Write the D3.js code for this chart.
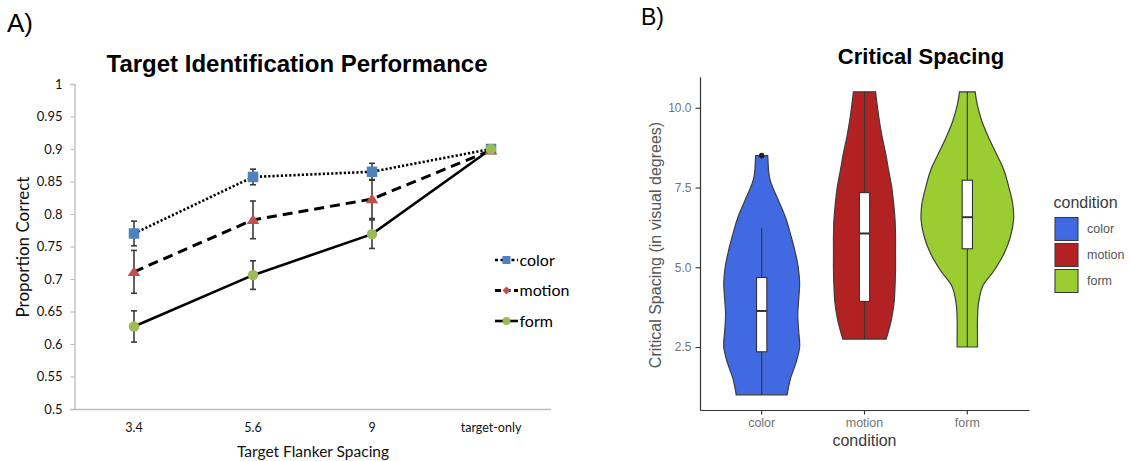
<!DOCTYPE html>
<html>
<head>
<meta charset="utf-8">
<script src="https://cdn.jsdelivr.net/npm/d3@7"></script>
<style>
  body { margin: 0; background: #fff; }
  svg { display: block; }
</style>
</head>
<body>
<svg id="fig" width="1132" height="461"></svg>
<script>
// ---------- Panel A: identification accuracy by target-flanker spacing ----------
const spacingCats   = ["3.4", "5.6", "9", "target-only"];
const accuracyTicks = [0.5, 0.55, 0.6, 0.65, 0.7, 0.75, 0.8, 0.85, 0.9, 0.95, 1];
const seriesNames   = ["color", "motion", "form"];
const colorMean  = [0.770, 0.857, 0.865, 0.900];
const colorErr   = [0.019, 0.012, 0.013, null];
const motionMean = [0.711, 0.791, 0.823, 0.898];
const motionErr  = [0.033, 0.029, 0.030, null];
const formMean   = [0.627, 0.706, 0.769, 0.900];
const formErr    = [0.024, 0.022, 0.022, null];

// ---------- Panel B: critical spacing per condition ----------
const conditions   = ["color", "motion", "form"];
const spacingTicks = [2.5, 5, 7.5, 10];
// violin outlines as [critical spacing, relative density]
const colorViolin = [
  [1.0, 0.55], [1.5, 0.62], [2.0, 0.74], [2.5, 0.82], [3.0, 0.80], [3.5, 0.78],
  [4.0, 0.80], [4.5, 0.82], [5.0, 0.79], [5.5, 0.72], [6.0, 0.63], [6.5, 0.53],
  [7.0, 0.39], [7.5, 0.24], [7.75, 0.18], [8.0, 0.15], [8.25, 0.14], [8.5, 0.13]
];
const motionViolin = [
  [2.75, 0.47], [2.8, 0.48], [3.35, 0.58], [3.9, 0.64], [4.4, 0.66], [4.9, 0.67],
  [5.5, 0.67], [6.0, 0.67], [6.5, 0.66], [7.0, 0.63], [7.5, 0.59], [8.05, 0.52],
  [8.55, 0.46], [9.1, 0.38], [9.6, 0.32], [10.13, 0.27], [10.5, 0.24]
];
const formViolin = [
  [2.5, 0.22], [2.8, 0.22], [3.35, 0.22], [3.85, 0.24], [4.4, 0.33], [4.9, 0.58],
  [5.45, 0.80], [5.95, 0.93], [6.5, 1.00], [7.0, 0.98], [7.5, 0.90], [8.05, 0.79],
  [8.55, 0.63], [9.1, 0.45], [9.6, 0.31], [10.13, 0.21], [10.5, 0.17]
];
// box statistics: [lower whisker, q1, median, q3, upper whisker]
const colorBox  = [1.0, 2.35, 3.63, 4.68, 6.24];
const motionBox = [2.75, 3.93, 6.06, 7.34, 10.5];
const formBox   = [2.5, 5.58, 6.57, 7.73, 10.5];
const colorOutliers = [8.5];

const svg = d3.select("#fig");
svg.append("rect").attr("width", 1132).attr("height", 461).attr("fill", "#fff");

// =============================== Panel A ===============================
const fontA = "Lato, 'Open Sans', sans-serif";
const fontB = "'Liberation Sans', Arial, Helvetica, sans-serif";

svg.append("text").attr("x", 7).attr("y", 32)
  .attr("font-family", fontB).attr("font-size", 26).attr("fill", "#000").text("A)");

svg.append("text").attr("x", 297).attr("y", 71.5).attr("text-anchor", "middle")
  .attr("font-family", fontB).attr("font-weight", "bold").attr("font-size", 24)
  .attr("fill", "#000").text("Target Identification Performance");

const xA = d3.scaleBand().domain(spacingCats).range([74.5, 550.5]).padding(0);
const yA = d3.scaleLinear().domain([0.5, 1]).range([409, 84]);
const cx = c => xA(c) + xA.bandwidth() / 2;

const fmtA = v => String(+v.toFixed(2));

const gyA = svg.append("g").attr("transform", "translate(74.5,0)")
  .call(d3.axisLeft(yA).tickValues(accuracyTicks).tickFormat(fmtA).tickSize(4).tickPadding(8));
gyA.select(".domain").attr("stroke", "#bfbfbf").attr("stroke-width", 1.4);
gyA.selectAll(".tick line").attr("stroke", "#bfbfbf").attr("stroke-width", 1.2);
gyA.selectAll(".tick text").attr("font-family", fontA).attr("font-size", 13).attr("fill", "#111");

const gxA = svg.append("g").attr("transform", "translate(0,409)")
  .call(d3.axisBottom(xA).tickSize(0).tickPadding(14));
gxA.select(".domain").attr("stroke", "#bfbfbf").attr("stroke-width", 1.4);
gxA.selectAll(".tick text").attr("font-family", fontA).attr("font-size", 12.5).attr("fill", "#111");

svg.append("text").attr("x", 313).attr("y", 457).attr("text-anchor", "middle")
  .attr("font-family", fontA).attr("font-size", 15.5).attr("fill", "#111")
  .text("Target Flanker Spacing");

svg.append("text").attr("transform", "translate(29,247) rotate(-90)").attr("text-anchor", "middle")
  .attr("font-family", fontA).attr("font-size", 17).attr("fill", "#111")
  .text("Proportion Correct");

const seriesA = [
  { name: "color",  mean: colorMean,  err: colorErr,  fill: "#4F81BD", dash: "2.2,2", legendDash: "3,2.5", width: 2.6, shape: "square" },
  { name: "motion", mean: motionMean, err: motionErr, fill: "#C0504D", dash: "10,6",  legendDash: "6,3.5", width: 3,   shape: "triangle" },
  { name: "form",   mean: formMean,   err: formErr,   fill: "#9BBB59", dash: null,    legendDash: null,    width: 2.6, shape: "circle" }
];

const lineA = d3.line().x(d => cx(d.cat)).y(d => yA(d.v));

// lines
seriesA.forEach(s => {
  const pts = spacingCats.map((c, i) => ({ cat: c, v: s.mean[i] }));
  svg.append("path").datum(pts).attr("d", lineA)
    .attr("fill", "none").attr("stroke", "#000").attr("stroke-width", s.width)
    .attr("stroke-dasharray", s.dash);
});

// error bars
seriesA.forEach(s => {
  spacingCats.forEach((c, i) => {
    const e = s.err[i];
    if (e == null) return;
    const x = cx(c), y1 = yA(s.mean[i] + e), y0 = yA(s.mean[i] - e);
    const g = svg.append("g").attr("stroke", "#3a3a3a").attr("stroke-width", 1.6);
    g.append("line").attr("x1", x).attr("x2", x).attr("y1", y1).attr("y2", y0);
    g.append("line").attr("x1", x - 3).attr("x2", x + 3).attr("y1", y1).attr("y2", y1);
    g.append("line").attr("x1", x - 3).attr("x2", x + 3).attr("y1", y0).attr("y2", y0);
  });
});

function marker(g, shape, x, y, size, fill) {
  if (shape === "square") {
    g.append("rect").attr("x", x - size / 2).attr("y", y - size / 2)
      .attr("width", size).attr("height", size).attr("fill", fill);
  } else if (shape === "triangle") {
    const h = size * 0.9;
    g.append("path").attr("d", `M${x},${y - h * 0.6}L${x + size * 0.6},${y + h * 0.45}L${x - size * 0.6},${y + h * 0.45}Z`)
      .attr("fill", fill);
  } else if (shape === "diamond") {
    const r = size / 2;
    g.append("path").attr("d", `M${x},${y - r}L${x + r},${y}L${x},${y + r}L${x - r},${y}Z`).attr("fill", fill);
  } else {
    g.append("circle").attr("cx", x).attr("cy", y).attr("r", size / 2).attr("fill", fill);
  }
}

// markers
seriesA.forEach(s => {
  const g = svg.append("g");
  spacingCats.forEach((c, i) => marker(g, s.shape, cx(c), yA(s.mean[i]), 10.5, s.fill));
});

// legend
const legendShapes = { color: "square", motion: "diamond", form: "circle" };
seriesA.forEach((s, i) => {
  const y = 260 + i * 30.5;
  const g = svg.append("g");
  g.append("line").attr("x1", 495).attr("x2", 518).attr("y1", y).attr("y2", y)
    .attr("stroke", "#000").attr("stroke-width", s.width).attr("stroke-dasharray", s.legendDash);
  marker(g, legendShapes[s.name], 506.5, y, 8, s.fill);
  g.append("text").attr("x", 519.5).attr("y", y).attr("dy", "0.35em")
    .attr("font-family", fontA).attr("font-size", 16).attr("fill", "#000").text(seriesNames[i]);
});

// =============================== Panel B ===============================
svg.append("text").attr("x", 641).attr("y", 24.5)
  .attr("font-family", fontB).attr("font-size", 23).attr("fill", "#000").text("B)");

svg.append("text").attr("x", 921).attr("y", 63.5).attr("text-anchor", "middle")
  .attr("font-family", fontB).attr("font-weight", "bold").attr("font-size", 22)
  .attr("fill", "#000").text("Critical Spacing");

const xB = d3.scaleBand().domain(conditions).range([700, 1029]).paddingInner(0).paddingOuter(0.1);
const yB = d3.scaleLinear().domain([0.525, 10.975]).range([410, 76.7]);
const cxB = c => xB(c) + xB.bandwidth() / 2;
const wB = d3.scaleLinear().domain([0, 1]).range([0, 0.45 * xB.step()]);

const fills = { color: "#4169E1", motion: "#B22222", form: "#9ACD32" };
const violins = { color: colorViolin, motion: motionViolin, form: formViolin };
const boxes = { color: colorBox, motion: motionBox, form: formBox };
const outliers = { color: colorOutliers, motion: [], form: [] };

conditions.forEach(c => {
  const x = cxB(c);
  const area = d3.area().curve(d3.curveCatmullRom)
    .y(d => yB(d[0])).x0(d => x - wB(d[1])).x1(d => x + wB(d[1]));
  svg.append("path").datum(violins[c]).attr("d", area)
    .attr("fill", fills[c]).attr("stroke", "#3d3d3d").attr("stroke-width", 1.2);

  const [lo, q1, med, q3, hi] = boxes[c];
  const bw = 0.1 * xB.step();
  svg.append("line").attr("x1", x).attr("x2", x).attr("y1", yB(lo)).attr("y2", yB(hi))
    .attr("stroke", "#333").attr("stroke-width", 1.1);
  svg.append("rect").attr("x", x - bw / 2).attr("width", bw)
    .attr("y", yB(q3)).attr("height", yB(q1) - yB(q3))
    .attr("fill", "#fff").attr("stroke", "#333").attr("stroke-width", 1.1);
  svg.append("line").attr("x1", x - bw / 2).attr("x2", x + bw / 2).attr("y1", yB(med)).attr("y2", yB(med))
    .attr("stroke", "#333").attr("stroke-width", 2);
  outliers[c].forEach(v => {
    svg.append("circle").attr("cx", x).attr("cy", yB(v)).attr("r", 2.8).attr("fill", "#222");
  });
});

const gyB = svg.append("g").attr("transform", "translate(700,0)")
  .call(d3.axisLeft(yB).tickValues(spacingTicks).tickFormat(d3.format(".1f")).tickSize(4.5).tickSizeOuter(0).tickPadding(4));
gyB.select(".domain").attr("stroke", "#333").attr("stroke-width", 1.2);
gyB.selectAll(".tick line").attr("stroke", "#333").attr("stroke-width", 1.1);
gyB.selectAll(".tick text").attr("font-family", fontB).attr("font-size", 12).attr("fill", "#747474");

const gxB = svg.append("g").attr("transform", "translate(0,410)")
  .call(d3.axisBottom(xB).tickSize(4.5).tickSizeOuter(0).tickPadding(4));
gxB.select(".domain").attr("stroke", "#333").attr("stroke-width", 1.2);
gxB.selectAll(".tick line").attr("stroke", "#333").attr("stroke-width", 1.1);
gxB.selectAll(".tick text").attr("font-family", fontB).attr("font-size", 12.5).attr("fill", "#747474");

svg.append("text").attr("x", cxB("motion")).attr("y", 445.5).attr("text-anchor", "middle")
  .attr("font-family", fontB).attr("font-size", 16).attr("fill", "#3a3a3a").text("condition");

svg.append("text").attr("transform", "translate(661,245) rotate(-90)").attr("text-anchor", "middle")
  .attr("font-family", fontB).attr("font-size", 16).attr("fill", "#555").text("Critical Spacing (in visual degrees)");

// legend
svg.append("text").attr("x", 1053.5).attr("y", 207.5)
  .attr("font-family", fontB).attr("font-size", 16).attr("fill", "#3a3a3a").text("condition");
conditions.forEach((c, i) => {
  const y = 217.5 + i * 26;
  svg.append("rect").attr("x", 1055).attr("y", y).attr("width", 23).attr("height", 23)
    .attr("fill", fills[c]).attr("stroke", "#3d3d3d").attr("stroke-width", 1.1);
  svg.append("text").attr("x", 1087).attr("y", y + 11.5).attr("dy", "0.35em")
    .attr("font-family", fontB).attr("font-size", 12.5).attr("fill", "#555").text(c);
});
</script>
</body>
</html>
